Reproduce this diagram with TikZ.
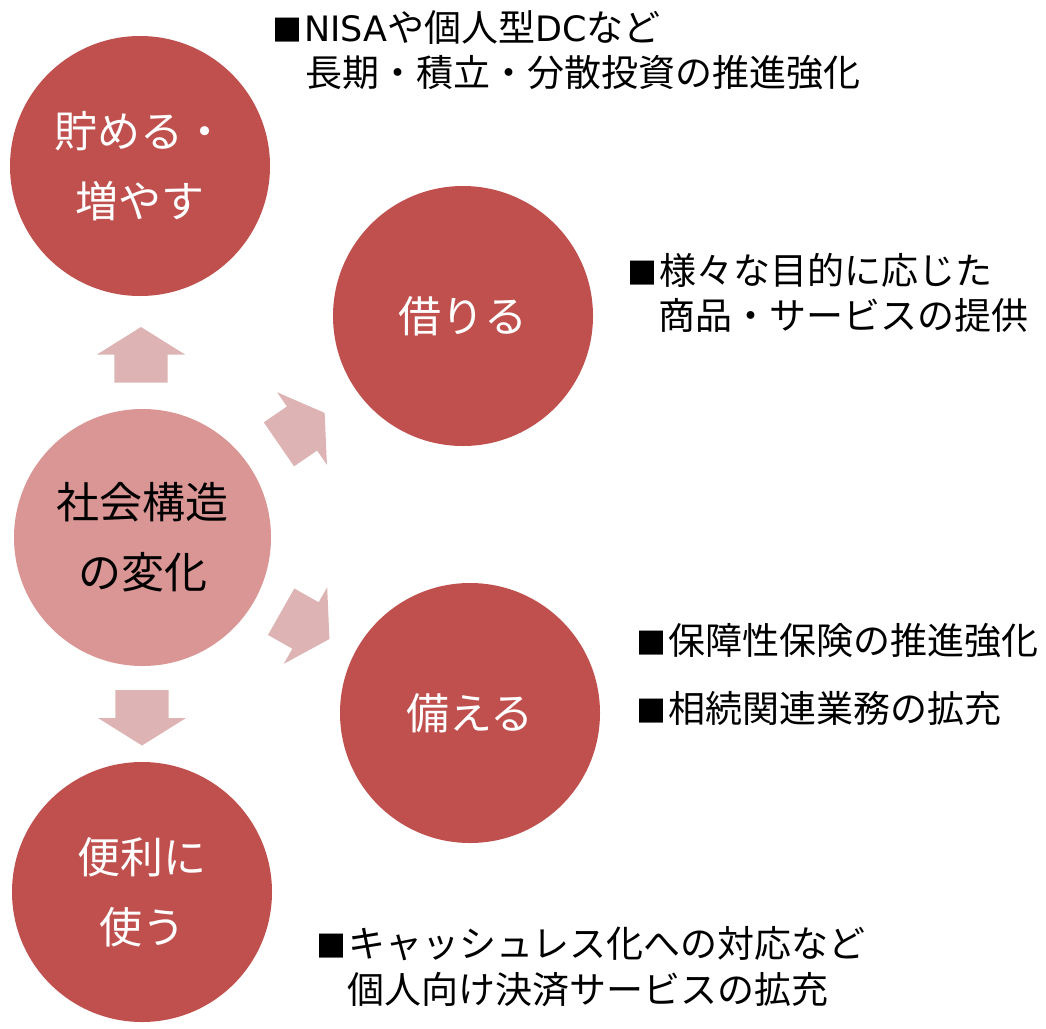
\documentclass[tikz,border=0pt]{standalone}
\usepackage{fontspec}
\setmainfont{Noto Sans CJK JP}
\newfontfamily\latn{DejaVu Sans}
\definecolor{cred}{HTML}{C0504D}
\definecolor{cpink}{HTML}{D99694}
\definecolor{arrowc}{HTML}{DDB3B3}
\newcommand\sqmark{\makebox[32pt][l]{\fontsize{30}{30}\selectfont ■}}
\begin{document}
\begin{tikzpicture}[x=1pt,y=-1pt,
  bigc/.style={circle, fill=cred, minimum size=260pt, inner sep=0pt, text=white, align=center, font=\fontsize{43}{70}\selectfont},
  lab/.style={anchor=west, font=\fontsize{37}{45}\selectfont, inner sep=0pt, text=black},
  blockarrow/.pic={\fill[arrowc] (0pt,27.5pt) -- (44pt,0pt) -- (26.7pt,0pt) -- (26.7pt,-28pt) -- (-26.7pt,-28pt) -- (-26.7pt,0pt) -- (-44pt,0pt) -- cycle;}]
\useasboundingbox (0,0) rectangle (1046,1028);
% circles
\node[bigc] (save) at (140,166) {貯める・\\増やす};
\node[bigc] (borrow) at (463,316) {借りる};
\node[bigc, fill=cpink, text=black, minimum size=257pt] (soc) at (142.5,537.5) {社会構造\\の変化};
\node[bigc] (prep) at (470,713) {備える};
\node[bigc] (use) at (142,892) {便利に\\使う};
% block arrows
\pic at (141,354.5) {blockarrow};
\pic[rotate=-55.5] at (302,428.5) {blockarrow};
\pic[rotate=-119.5] at (305.5,625.5) {blockarrow};
\pic[rotate=180] at (142,718) {blockarrow};
% labels
\node[lab] (l1a) at (272,28) {\sqmark{\latn\fontsize{35}{45}\selectfont NISA}や個人型{\latn\fontsize{35}{45}\selectfont DC}など};
\node[lab] (l1b) at (305,73) {長期・積立・分散投資の推進強化};
\node[lab] (l2a) at (627,270) {\sqmark 様々な目的に応じた};
\node[lab] (l2b) at (658,315) {商品・サービスの提供};
\node[lab] (l3) at (636,641) {\sqmark 保障性保険の推進強化};
\node[lab] (l4) at (636,708) {\sqmark 相続関連業務の拡充};
\node[lab] (l5a) at (316,944) {\sqmark キャッシュレス化への対応など};
\node[lab] (l5b) at (347,990) {個人向け決済サービスの拡充};
\end{tikzpicture}
\end{document}
